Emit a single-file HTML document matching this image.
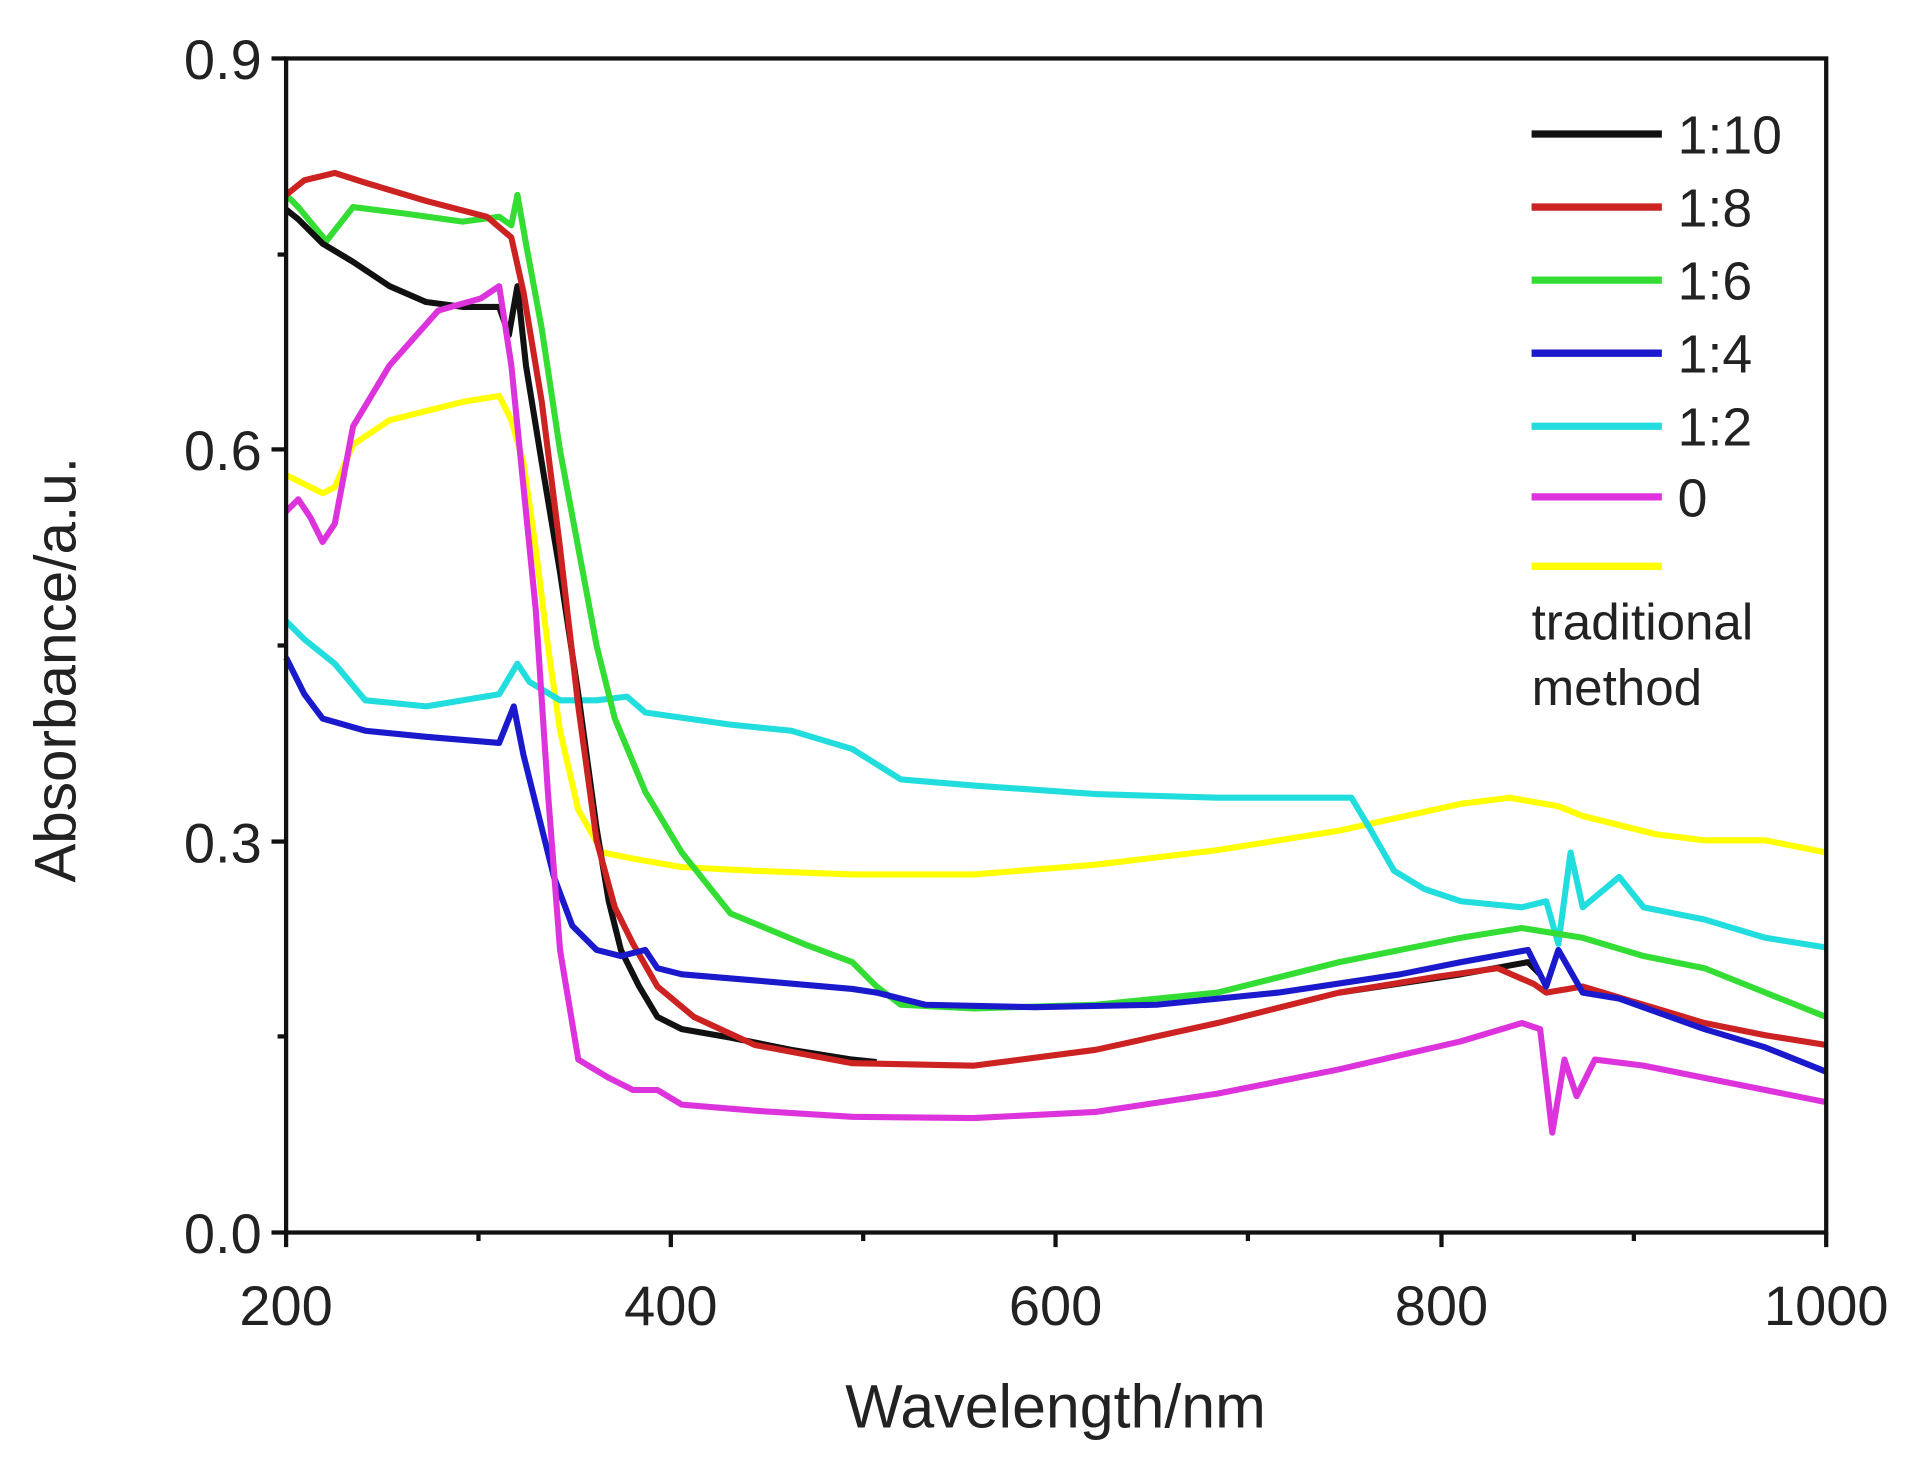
<!DOCTYPE html>
<html><head><style>html,body{margin:0;padding:0;background:#fff}svg{display:block}</style></head>
<body>
<svg width="1909" height="1470" viewBox="0 0 1568 1207" preserveAspectRatio="none" xmlns="http://www.w3.org/2000/svg" font-family="Liberation Sans, sans-serif">
<rect width="1568" height="1207" fill="#fff"/>
<g fill="none" stroke-width="5" stroke-linejoin="round">
<polyline stroke="#ffff00" points="235,390 245,395 265,405 275,400 290,365 320,345 360,335 380,330 410,325 420,345 430,380 440,450 450,530 460,600 475,665 495,700 520,705 560,712 620,715 700,718 800,718 900,710 1000,698 1100,682 1200,660 1240,655 1280,662 1300,670 1360,685 1400,690 1450,690 1500,700"/>
<polyline stroke="#22dddd" points="235,510 250,525 275,545 300,575 350,580 410,570 425,545 435,560 460,575 490,575 515,572 530,585 600,595 650,600 700,615 740,640 800,645 900,652 1000,655 1110,655 1125,680 1145,715 1170,730 1200,740 1250,745 1270,740 1280,775 1290,700 1300,745 1330,720 1350,745 1400,755 1450,770 1500,778"/>
<polyline stroke="#33dd33" points="235,160 245,170 268,198 290,170 330,175 380,182 410,178 420,185 425,160 432,200 445,270 460,370 475,450 490,530 505,590 530,650 560,700 600,750 660,775 700,790 720,810 740,825 800,828 900,825 1000,815 1100,790 1200,770 1250,762 1300,770 1350,785 1400,795 1450,815 1500,835"/>
<polyline stroke="#111" points="235,172 245,180 265,200 290,215 320,235 350,248 380,252 410,252 418,275 425,235 432,300 445,380 460,470 475,570 490,680 500,740 510,780 525,810 540,835 560,845 600,852 650,862 700,870 720,872"/>
<polyline stroke="#111" points="1100,815 1200,800 1255,790 1265,800"/>
<polyline stroke="#cc2222" points="235,160 250,148 275,142 300,150 350,165 400,178 420,195 430,240 445,330 460,450 475,580 490,690 505,745 520,775 540,810 570,835 620,858 700,873 800,875 900,862 1000,840 1100,815 1180,802 1230,795 1260,808 1270,815 1300,810 1350,825 1400,840 1450,850 1500,858"/>
<polyline stroke="#1a1acc" points="235,540 250,570 265,590 300,600 350,605 410,610 422,580 430,620 440,660 455,720 470,760 490,780 510,785 530,780 540,795 560,800 620,805 700,812 720,815 760,825 850,827 950,825 1050,815 1150,800 1200,790 1255,780 1270,810 1280,780 1300,815 1330,820 1400,845 1450,860 1500,880"/>
<polyline stroke="#dd33dd" points="235,420 245,410 255,425 265,445 275,430 290,350 320,300 360,255 395,245 410,235 420,300 430,400 440,500 450,650 460,780 475,870 500,885 520,895 540,895 560,907 620,912 700,917 800,918 900,913 1000,898 1100,878 1200,855 1250,840 1265,845 1275,930 1285,870 1295,900 1310,870 1350,875 1400,885 1450,895 1500,905"/>
</g>
<rect x="235" y="48" width="1265" height="964" fill="none" stroke="#111" stroke-width="3.5"/>
<g stroke="#111" stroke-width="3.5">
<line x1="235" y1="1012" x2="235" y2="1024"/><line x1="551" y1="1012" x2="551" y2="1024"/><line x1="867" y1="1012" x2="867" y2="1024"/><line x1="1184" y1="1012" x2="1184" y2="1024"/><line x1="1500" y1="1012" x2="1500" y2="1024"/>
<line x1="393" y1="1012" x2="393" y2="1019"/><line x1="709" y1="1012" x2="709" y2="1019"/><line x1="1025" y1="1012" x2="1025" y2="1019"/><line x1="1342" y1="1012" x2="1342" y2="1019"/>
<line x1="223" y1="1012" x2="235" y2="1012"/><line x1="223" y1="691" x2="235" y2="691"/><line x1="223" y1="369" x2="235" y2="369"/><line x1="223" y1="48" x2="235" y2="48"/>
<line x1="228" y1="851" x2="235" y2="851"/><line x1="228" y1="530" x2="235" y2="530"/><line x1="228" y1="209" x2="235" y2="209"/>
</g>
<g font-size="46" fill="#222">
<text x="215" y="1029" text-anchor="end">0.0</text>
<text x="215" y="708" text-anchor="end">0.3</text>
<text x="215" y="386" text-anchor="end">0.6</text>
<text x="215" y="65" text-anchor="end">0.9</text>
<g text-anchor="middle">
<text x="235" y="1088">200</text><text x="551" y="1088">400</text><text x="867" y="1088">600</text><text x="1184" y="1088">800</text><text x="1500" y="1088">1000</text>
</g>
</g>
<text x="867" y="1172" font-size="50" text-anchor="middle" fill="#222">Wavelength/nm</text>
<text transform="translate(62,550) rotate(-90)" font-size="48" text-anchor="middle" fill="#222">Absorbance/a.u.</text>
<g stroke-width="6">
<line x1="1258" y1="110" x2="1365" y2="110" stroke="#111"/>
<line x1="1258" y1="170" x2="1365" y2="170" stroke="#cc2222"/>
<line x1="1258" y1="230" x2="1365" y2="230" stroke="#33dd33"/>
<line x1="1258" y1="290" x2="1365" y2="290" stroke="#1a1acc"/>
<line x1="1258" y1="350" x2="1365" y2="350" stroke="#22dddd"/>
<line x1="1258" y1="408" x2="1365" y2="408" stroke="#dd33dd"/>
<line x1="1258" y1="465" x2="1365" y2="465" stroke="#ffff00"/>
</g>
<g font-size="44" fill="#222">
<text x="1378" y="126">1:10</text><text x="1378" y="186">1:8</text><text x="1378" y="246">1:6</text><text x="1378" y="306">1:4</text><text x="1378" y="366">1:2</text><text x="1378" y="424">0</text>
<text x="1258" y="525" font-size="42">traditional</text><text x="1258" y="579" font-size="42">method</text>
</g>
</svg>
</body></html>
